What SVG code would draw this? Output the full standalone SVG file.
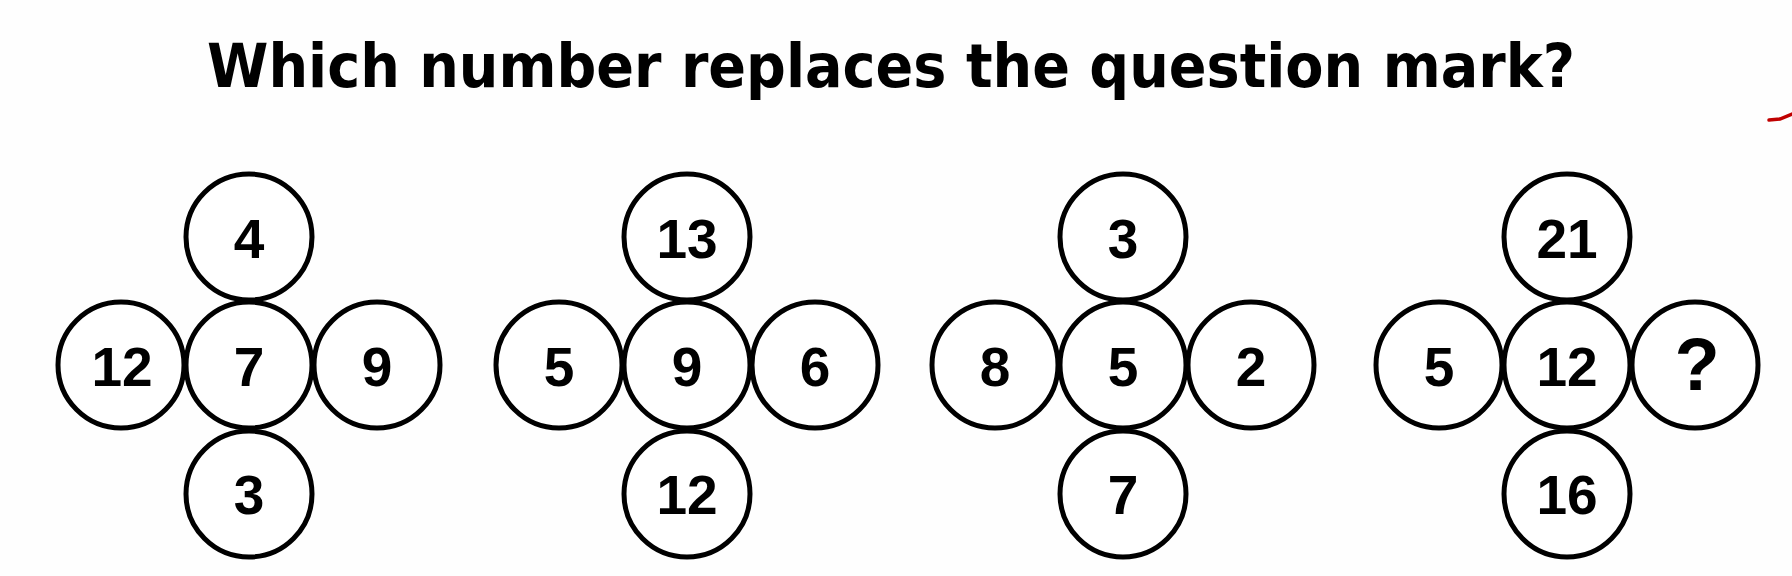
<svg xmlns="http://www.w3.org/2000/svg" width="1792" height="576" viewBox="0 0 1792 576">
  <style>
    .c { fill: #ffffff; stroke: #000000; stroke-width: 5; }
    .n { font-family: "Liberation Sans", Arial, sans-serif; font-weight: bold; font-size: 55px; fill: #000000; text-anchor: middle; }
    .q { font-family: "Liberation Sans", Arial, sans-serif; font-weight: bold; font-size: 74px; fill: #000000; text-anchor: middle; }
    .t { font-family: "DejaVu Sans", "Liberation Sans", sans-serif; font-weight: bold; font-size: 60px; fill: #000000; }
  </style>
  <rect x="0" y="0" width="1792" height="576" fill="#fefefe"/>
  <text class="t" x="207" y="87" textLength="1368" lengthAdjust="spacingAndGlyphs">Which number replaces the question mark?</text>
  <path d="M1769,120 L1780,119 L1792,114" fill="none" stroke="#c00000" stroke-width="3.5" stroke-linecap="round"/>

  <g id="connectors"></g>

  <!-- Cluster 1 -->
  <g id="c1-top"><circle class="c" cx="249" cy="237" r="63"/><text class="n" x="249" y="258">4</text></g>
  <g id="c1-left"><circle class="c" cx="121" cy="365" r="63"/><text class="n" x="122" y="386">12</text></g>
  <g id="c1-center"><circle class="c" cx="249" cy="365" r="63"/><text class="n" x="249" y="386">7</text></g>
  <g id="c1-right"><circle class="c" cx="377" cy="365" r="63"/><text class="n" x="377" y="386">9</text></g>
  <g id="c1-bottom"><circle class="c" cx="249" cy="494" r="63"/><text class="n" x="249" y="514">3</text></g>

  <!-- Cluster 2 -->
  <g id="c2-top"><circle class="c" cx="687" cy="237" r="63"/><text class="n" x="687" y="258">13</text></g>
  <g id="c2-left"><circle class="c" cx="559" cy="365" r="63"/><text class="n" x="559" y="386">5</text></g>
  <g id="c2-center"><circle class="c" cx="687" cy="365" r="63"/><text class="n" x="687" y="386">9</text></g>
  <g id="c2-right"><circle class="c" cx="815" cy="365" r="63"/><text class="n" x="815" y="386">6</text></g>
  <g id="c2-bottom"><circle class="c" cx="687" cy="494" r="63"/><text class="n" x="687" y="514">12</text></g>

  <!-- Cluster 3 -->
  <g id="c3-top"><circle class="c" cx="1123" cy="237" r="63"/><text class="n" x="1123" y="258">3</text></g>
  <g id="c3-left"><circle class="c" cx="995" cy="365" r="63"/><text class="n" x="995" y="386">8</text></g>
  <g id="c3-center"><circle class="c" cx="1123" cy="365" r="63"/><text class="n" x="1123" y="386">5</text></g>
  <g id="c3-right"><circle class="c" cx="1251" cy="365" r="63"/><text class="n" x="1251" y="386">2</text></g>
  <g id="c3-bottom"><circle class="c" cx="1123" cy="494" r="63"/><text class="n" x="1123" y="514">7</text></g>

  <!-- Cluster 4 -->
  <g id="c4-top"><circle class="c" cx="1567" cy="237" r="63"/><text class="n" x="1567" y="258">21</text></g>
  <g id="c4-left"><circle class="c" cx="1439" cy="365" r="63"/><text class="n" x="1439" y="386">5</text></g>
  <g id="c4-center"><circle class="c" cx="1567" cy="365" r="63"/><text class="n" x="1567" y="386">12</text></g>
  <g id="c4-right"><circle class="c" cx="1695" cy="365" r="63"/><text class="q" x="1697" y="390">?</text></g>
  <g id="c4-bottom"><circle class="c" cx="1567" cy="494" r="63"/><text class="n" x="1567" y="514">16</text></g>
</svg>
